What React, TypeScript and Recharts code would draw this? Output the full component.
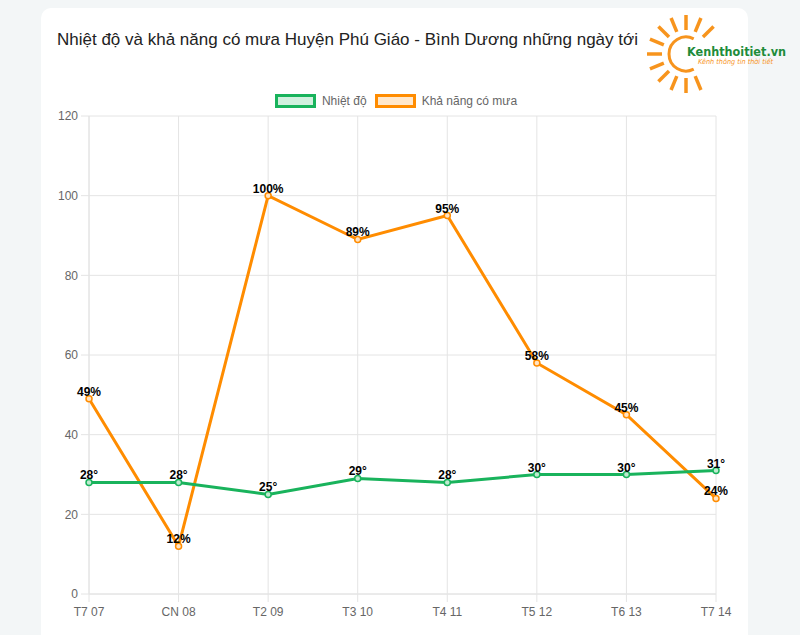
import React from "react";
import { LineChart, Line, XAxis, YAxis, CartesianGrid, LabelList } from "recharts";

// ── data ────────────────────────────────────────────────────────────────────
const days = ["T7 07", "CN 08", "T2 09", "T3 10", "T4 11", "T5 12", "T6 13", "T7 14"];
const temperature = [28, 28, 25, 29, 28, 30, 30, 31];
const rainChance = [49, 12, 100, 89, 95, 58, 45, 24];
const yTicks = [0, 20, 40, 60, 80, 100, 120];

const TITLE = "Nhiệt độ và khả năng có mưa Huyện Phú Giáo - Bình Dương những ngày tới";
const TEMP_NAME = "Nhiệt độ";
const RAIN_NAME = "Khả năng có mưa";

const GREEN = "#19b35c";
const ORANGE = "#ff8c00";
const GRID = "#e4e4e4";
const TICK = "#666";
const FONT = "'Liberation Sans', Arial, Helvetica, sans-serif";
const LOGO_ORANGE = "#f7941d";

const data = days.map((day, i) => ({ day, temp: temperature[i], rain: rainChance[i] }));

const labelStyle = { fontSize: 12, fontWeight: 700, fill: "#000", fontFamily: FONT };

function LegendItem({ color, fill, label }: { color: string; fill: string; label: string }) {
  return (
    <div style={{ display: "flex", alignItems: "center", marginRight: 8 }}>
      <div style={{ width: 35, height: 8, border: `3px solid ${color}`, background: fill, marginRight: 6 }} />
      <span style={{ fontSize: 12, color: TICK }}>{label}</span>
    </div>
  );
}

// site logo, top-right of the card
function Logo() {
  const cx = 686;
  const cy = 54;
  const rays = [45, 67.5, 90, 112.5, 135, 157.5, 180, 202.5, 225, 247.5, 270, 292.5];
  return (
    <svg width={800} height={120} style={{ position: "absolute", left: 0, top: 0 }}>
      {rays.map((a) => {
        const r = (a * Math.PI) / 180;
        return (
          <line
            key={a}
            x1={cx + 24 * Math.cos(r)}
            y1={cy - 24 * Math.sin(r)}
            x2={cx + 39 * Math.cos(r)}
            y2={cy - 39 * Math.sin(r)}
            stroke={LOGO_ORANGE}
            strokeWidth={3.5}
          />
        );
      })}
      <path
        d={`M ${cx + 17 * Math.cos(1.1)} ${cy - 17 * Math.sin(1.1)} A 17 17 0 1 0 ${cx + 17 * Math.cos(1.1)} ${cy + 17 * Math.sin(1.1)}`}
        fill="none"
        stroke={LOGO_ORANGE}
        strokeWidth={3}
      />
      <text x={687} y={56} fontSize={13} fontWeight={700} fill="#1e8c3a" fontFamily="'DejaVu Sans', sans-serif" textLength={99} lengthAdjust="spacingAndGlyphs">
        Kenhthoitiet.vn
      </text>
      <text x={698} y={64} fontSize={7} fontStyle="italic" fill={LOGO_ORANGE} fontFamily="'DejaVu Sans', sans-serif" textLength={75} lengthAdjust="spacingAndGlyphs">
        Kênh thông tin thời tiết
      </text>
    </svg>
  );
}

export default function App() {
  return (
    <div style={{ position: "fixed", left: 0, top: 0, width: 800, height: 635, background: "#f3f6f7", overflow: "hidden", fontFamily: FONT }}>
      <div style={{ position: "absolute", left: 41, top: 8, width: 707, height: 700, background: "#fff", borderRadius: 10 }} />
      <div style={{ position: "absolute", left: 57, top: 30, fontSize: 17, lineHeight: "20px", color: "#222", whiteSpace: "nowrap" }}>
        {TITLE}
      </div>
      <div style={{ position: "absolute", left: 0, top: 94, width: 800, display: "flex", justifyContent: "center", paddingRight: 3 }}>
        <LegendItem color={GREEN} fill="rgba(25,179,92,0.2)" label={TEMP_NAME} />
        <LegendItem color={ORANGE} fill="rgba(255,140,0,0.2)" label={RAIN_NAME} />
      </div>
      <div style={{ position: "absolute", left: 0, top: 0 }}>
        <LineChart width={800} height={635} data={data} margin={{ top: 116, right: 84, bottom: 11, left: 0 }}>
          <CartesianGrid stroke={GRID} />
          <XAxis
            dataKey="day"
            height={30}
            tickSize={8}
            tickMargin={5}
            axisLine={{ stroke: GRID }}
            tickLine={{ stroke: GRID }}
            tick={{ fontSize: 12, fill: TICK, fontFamily: FONT }}
            interval={0}
          />
          <YAxis
            width={89}
            domain={[0, 120]}
            ticks={yTicks}
            tickSize={8}
            tickMargin={3}
            axisLine={{ stroke: GRID }}
            tickLine={{ stroke: GRID }}
            tick={{ fontSize: 12, fill: TICK, fontFamily: FONT }}
          />
          <Line
            type="linear"
            dataKey="rain"
            name={RAIN_NAME}
            stroke={ORANGE}
            strokeWidth={3}
            dot={{ r: 3, stroke: ORANGE, strokeWidth: 1.5, fill: "#ffe3c2" }}
            isAnimationActive={false}
          >
            <LabelList dataKey="rain" position="top" offset={3} formatter={(v: unknown) => `${v}%`} style={labelStyle} />
          </Line>
          <Line
            type="linear"
            dataKey="temp"
            name={TEMP_NAME}
            stroke={GREEN}
            strokeWidth={3}
            dot={{ r: 3, stroke: GREEN, strokeWidth: 1.5, fill: "#bfead0" }}
            isAnimationActive={false}
          >
            <LabelList dataKey="temp" position="top" offset={3} formatter={(v: unknown) => `${v}°`} style={labelStyle} />
          </Line>
        </LineChart>
      </div>
      <Logo />
    </div>
  );
}
